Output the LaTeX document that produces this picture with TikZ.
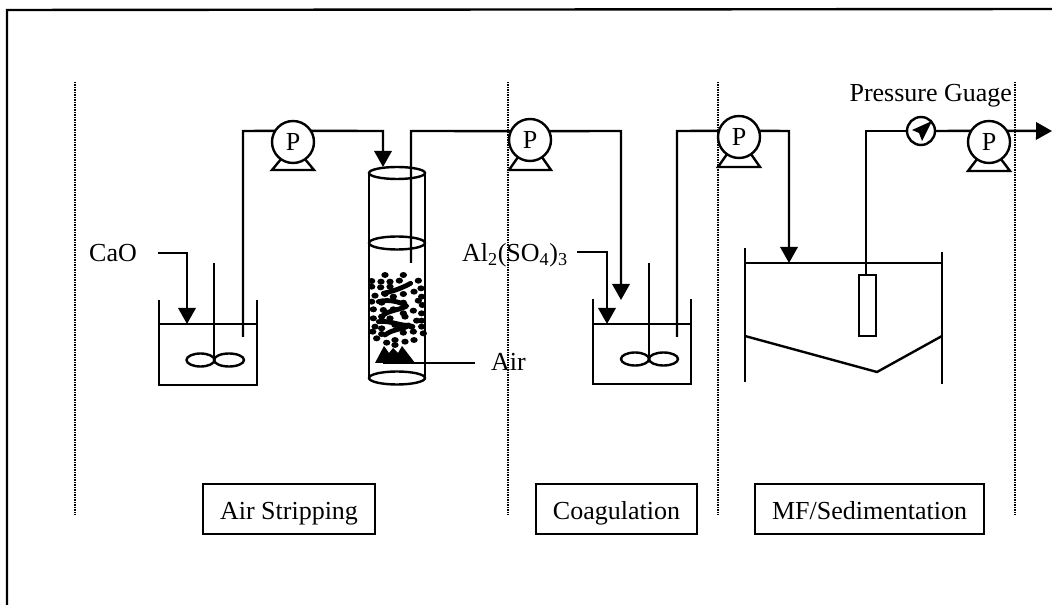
\documentclass[tikz,border=0pt]{standalone}
\usepackage{fontspec}
\setmainfont{Liberation Serif}
\usetikzlibrary{arrows.meta,shapes.geometric}
\tikzset{
  line/.style={line width=1.8pt,line join=miter},
  flow/.style={line,-{Triangle[length=12pt,width=13pt]}},
  sep line/.style={line width=1.8pt,dash pattern=on 0.75pt off 0.5pt,black},
  pump/.style={circle,draw,line width=1.8pt,minimum size=31.5pt,inner sep=0pt,outer sep=0pt,font=\fontsize{19.5}{22}\selectfont},
  gauge/.style={circle,draw,line width=1.8pt,minimum size=21pt,inner sep=0pt,outer sep=0pt},
  lab/.style={font=\fontsize{19.5}{22}\selectfont,inner sep=0pt,outer sep=0pt},
  stage/.style={draw,line width=1.8pt,font=\fontsize{19.5}{22}\selectfont,inner sep=0pt,outer sep=0pt,minimum height=37.5pt,anchor=center,text height=19pt,text depth=4pt},
  blade/.style={line width=1.8pt},
  media/.style={line width=3.6pt,line cap=round,line join=round},
}
\begin{document}
\begin{tikzpicture}[x=0.75pt,y=-0.75pt]
\useasboundingbox (0,0) rectangle (1052,605);
\fill[white] (0,0) rectangle (1052,605);
% frame
\draw[line] (7,605) -- (7,10) -- (1052,9);
% stage separators
\foreach \x in {75,508,718,1015} \draw[sep line] (\x,82) -- (\x,515);
% pumps
\node[pump] (p1) at (293,142) {P};
\node[pump] (p2) at (530,140) {P};
\node[pump] (p3) at (739,137) {P};
\node[pump] (p4) at (989,142) {P};
\foreach \p/\xc/\yb in {p1/293/170,p2/530/170,p3/739/167,p4/989/171}{
  \draw[line] (\p.235) -- (\xc-21,\yb) -- (\xc+21,\yb) -- (\p.305);
}
% gauge
\node[gauge] (g) at (921,131) {};
\fill (912,130) -- (932,121) -- (922,141) -- (919,133) -- cycle;
% tank 1
\draw[line] (159,300) -- (159,385) -- (257,385) -- (257,300);
\draw[line] (159,324) -- (257,324);
\coordinate (s1t) at (214,263);
\coordinate (s1b) at (214,360);
\draw[line] (s1t) -- (s1b);
\draw[blade] (200.5,360) ellipse (14 and 6.5);
\draw[blade] (229,360) ellipse (15 and 6.5);
% tank 2
\draw[line] (593,299) -- (593,384) -- (691,384) -- (691,299);
\draw[line] (593,324) -- (691,324);
\coordinate (s2t) at (649,263);
\coordinate (s2b) at (649,359);
\draw[line] (s2t) -- (s2b);
\draw[blade] (635,359) ellipse (14 and 6.5);
\draw[blade] (663.5,359) ellipse (14.5 and 6.5);
% column
\draw[line] (369,173) -- (369,378);
\draw[line] (425,173) -- (425,378);
\draw[line] (397,173) ellipse (28 and 6);
\draw[line] (397,243) ellipse (28 and 6.5);
\draw[line] (397,378) ellipse (28 and 6.5);
% packing
\begin{scope}[shift={(340,150)},x=0.25pt,y=-0.25pt]
\foreach \a/\b in {135/375,190/375,95/393,123/395,150/395,178/392,235/392,95/410,122/412,150/410,243/415,105/437,135/432,160/440,190/432,222/425,245/440,95/455,125/458,190/458,235/452,247/465,100/478,130/480,160/478,220/482,245/490,190/490,100/505,125/500,150/505,195/500,230/512,245/512,105/530,125/535,165/525,215/530,245/530,98/545,125/552,190/548,220/545,250/550,110/565,140/578,165/570,195/575,222/570,165/585}
  \fill (\a,\b) ellipse (11 and 9);
\draw[media] (130,430) .. controls (150,425) and (175,420) .. (212,400);
\draw[media] (115,455) .. controls (150,445) and (190,460) .. (200,468) .. controls (180,480) and (150,480) .. (130,495);
\draw[media] (115,515) .. controls (150,510) and (185,530) .. (208,525) .. controls (190,540) and (160,535) .. (135,555);
\end{scope}
% diffuser
\fill (375,363) -- (384,346) -- (389,353) -- (393,348) -- (398,353) -- (402,346) -- (415,363) -- cycle;
% sedimentation tank
\draw[line] (745,248) -- (745,382);
\draw[line] (942,252) -- (942,384);
\draw[line] (745,263) -- (942,263);
\draw[line] (745,336) -- (877,372) -- (942,336);
\node[draw,line width=1.8pt,minimum width=12.75pt,minimum height=45.75pt,inner sep=0pt,outer sep=0pt] (mem) at (867.5,305.5) {};
% labels
\node[lab] (cao) at (113,253) {CaO};
\node[lab,anchor=west] (alum) at (462,255) {Al\textsubscript{2}(SO\textsubscript{4})\textsubscript{3}};
\node[lab,anchor=west] (air) at (491,362) {Air};
\node[lab,anchor=east] (pg) at (1012,96) {Pressure Guage};
\node[stage,minimum width=129pt] (b1) at (289,509) {Air Stripping};
\node[stage,minimum width=120.75pt] (b2) at (616.5,509) {Coagulation};
\node[stage,minimum width=171.75pt] (b3) at (869.5,509) {MF/Sedimentation};
% connectors
\coordinate (t1) at (243,337);
\coordinate (c1in) at (383,167);
\draw[line] (t1) -- (243,131) -- (p1.148);
\draw[flow] (p1.32) -- (383,131) -- (c1in);
\coordinate (c1out) at (411,263);
\draw[line] (c1out) -- (411,131) -- (p2.155);
\coordinate (t2in) at (621,300);
\draw[flow] (p2.25) -- (621,131) -- (t2in);
\coordinate (t2) at (677,337);
\draw[line] (t2) -- (677,131) -- (p3.163);
\coordinate (s3in) at (789,263);
\draw[flow] (p3.17) -- (789,131) -- (s3in);
\coordinate (memtop) at (866,275);
\draw[line] (memtop) -- (866,131) -- (g.west);
\draw[line] (g.east) -- (p4.148);
\coordinate (outflow) at (1052,131);
\draw[flow] (p4.32) -- (outflow);
\coordinate (cao2) at (158,253);
\coordinate (cao3) at (187,324);
\draw[flow] (cao2) -- (187,253) -- (cao3);
\coordinate (al2) at (577,252);
\coordinate (al3) at (607,324);
\draw[flow] (al2) -- (607,252) -- (al3);
\coordinate (air1) at (475,363);
\coordinate (air2) at (383,363);
\draw[line] (air1) -- (air2);
\end{tikzpicture}
\end{document}
